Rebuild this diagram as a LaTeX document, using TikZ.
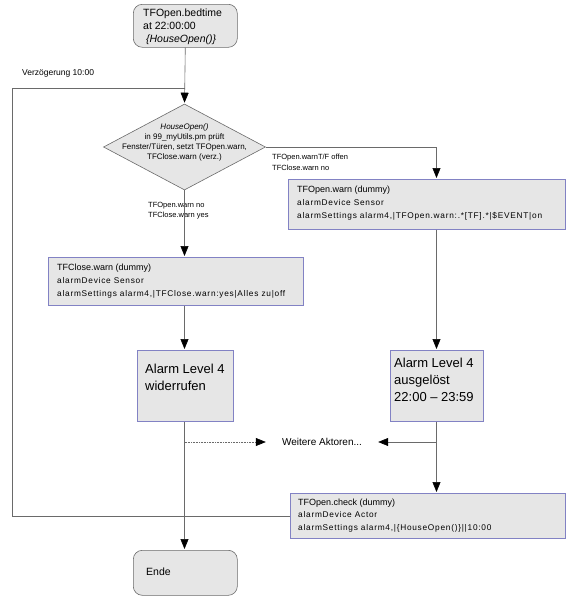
\documentclass[tikz,border=0pt]{standalone}
\usepackage{fontspec}
\setmainfont{Liberation Sans}
\newfontfamily\widefont[LetterSpace=9]{Liberation Sans}
\usetikzlibrary{arrows.meta,shapes.geometric}
\definecolor{boxfill}{HTML}{E6E6E6}
\definecolor{boxline}{HTML}{8282C4}
\definecolor{connc}{HTML}{6A6A6A}
\begin{document}
\begin{tikzpicture}[x=1pt,y=-1pt,
  box/.style={draw=boxline, fill=boxfill, line width=0.7pt, inner sep=0pt, anchor=north west},
  term/.style={draw=connc, fill=boxfill, line width=0.6pt, rounded corners=9pt, inner sep=0pt, anchor=north west},
  conn/.style={draw=connc, line width=0.6pt},
  tip/.style={-{Triangle[width=8pt,length=10pt,color=black]}},
  arr/.style={conn, tip, shorten >=1pt},
  txt/.style={align=left, inner sep=0pt, anchor=north west},
  boxtxt/.style={txt, font=\fontsize{9}{13}\selectfont},
  lab/.style={txt, font=\fontsize{7.5}{10.5}\selectfont},
  big/.style={txt, font=\fontsize{13}{17}\selectfont}]
\useasboundingbox (0,0) rectangle (581,600);

% start
\node[term, minimum width=104pt, minimum height=43pt] (start) at (133,4) {};
\node[txt, font=\fontsize{10.5}{12.8}\selectfont] (startt) at (143,9)
  {TFOpen.bedtime\\at 22:00:00\\\ {\itshape\{HouseOpen()\}}};

% decision
\node[diamond, draw=connc, fill=boxfill, line width=0.6pt, inner sep=0pt,
  minimum width=162pt, minimum height=86pt] (dec) at (184.5,147) {};
\node[align=center, inner sep=0pt, font=\fontsize{8}{10.2}\selectfont] (dect) at (184.5,142.5)
  {{\itshape HouseOpen()}\\in 99\_myUtils.pm prüft\\Fenster/Türen, setzt TFOpen.warn,\\TFClose.warn (verz.)};

% TFOpen.warn
\node[box, minimum width=277pt, minimum height=50pt] (warn) at (288,179) {};
\node[boxtxt] (warnt) at (297,186)
  {TFOpen.warn (dummy)\\
   {\widefont\fontsize{8.3}{13}\selectfont alarmDevice Sensor}\\
   {\widefont\fontsize{8.3}{13}\selectfont alarmSettings alarm4,|TFOpen.warn:.*[TF].*|\$EVENT|on}};

% TFClose.warn
\node[box, minimum width=255pt, minimum height=48pt] (close) at (48,257) {};
\node[boxtxt] (closet) at (57,264)
  {TFClose.warn (dummy)\\
   {\widefont\fontsize{8.3}{13}\selectfont alarmDevice Sensor}\\
   {\widefont\fontsize{8.3}{13}\selectfont alarmSettings alarm4,|TFClose.warn:yes|Alles zu|off}};

% alarm boxes
\node[box, minimum width=96pt, minimum height=71pt] (al) at (137,350) {};
\node[big] (alt) at (145,364) {Alarm Level 4\\widerrufen};
\node[box, minimum width=93pt, minimum height=71pt] (ar) at (390,350) {};
\node[big] (art) at (394,358) {Alarm Level 4\\ausgelöst\\22:00 -- 23:59};

% Weitere Aktoren
\node[inner sep=0pt, minimum width=112pt, minimum height=10pt, font=\fontsize{10}{12}\selectfont] (wt) at (322,442) {Weitere Aktoren...};

% TFOpen.check
\node[box, minimum width=275pt, minimum height=45pt] (check) at (290,493) {};
\node[boxtxt] (checkt) at (298,498.5)
  {TFOpen.check (dummy)\\[-1pt]
   {\widefont\fontsize{8.3}{12.5}\selectfont alarmDevice Actor}\\
   {\widefont\fontsize{8.3}{13}\selectfont alarmSettings alarm4,|\{HouseOpen()\}||10:00}};

% end
\node[term, minimum width=104pt, minimum height=45pt] (ende) at (133,550) {};
\node[txt, font=\fontsize{10.5}{12}\selectfont] (endet) at (146,568) {Ende};

% labels
\node[txt, font=\fontsize{8.5}{10}\selectfont] (lver) at (22,69) {Verzögerung 10:00};
\node[lab] (lyes) at (272,154) {TFOpen.warnT/F offen\\TFClose.warn no};
\node[lab] (lno) at (148,202) {TFOpen.warn no\\TFClose.warn yes};

% connectors
\coordinate (lt) at (12,88);
\coordinate (rx) at (436.5,0);
\draw[arr] (start.south) -- (dec.north);
\draw[conn] (check.west) -| (lt) -- (start.south |- lt);
\draw[arr] (dec.east) -| (warn.north -| rx);
\draw[arr] (dec.south) -- (dec.south |- close.north);
\draw[arr] (dec.south |- close.south) -- (dec.south |- al.north);
\draw[arr] (warn.south -| rx) -- (ar.north -| rx);
\draw[arr] (dec.south |- al.south) -- (dec.south |- ende.north);
\draw[arr] (ar.south -| rx) -- (check.north -| rx);
\draw[conn, densely dotted, tip] (dec.south |- wt.west) -- (wt.west);
\draw[conn, tip] (rx |- wt.east) -- (wt.east);
\end{tikzpicture}
\end{document}
